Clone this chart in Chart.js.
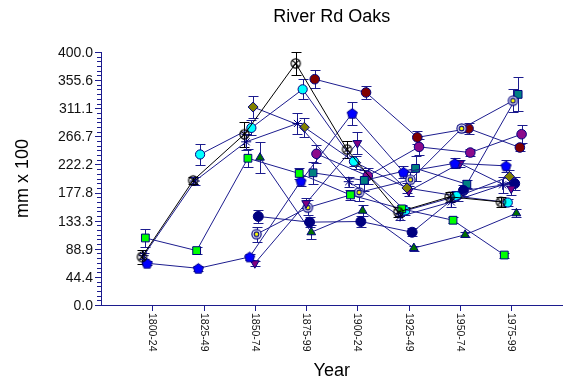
<!DOCTYPE html>
<html>
<head>
<meta charset="utf-8">
<title>River Rd Oaks</title>
<script src="https://cdn.jsdelivr.net/npm/chart.js@4.4.1/dist/chart.umd.min.js"></script>
<style>
  html, body { margin: 0; padding: 0; background: #fff; }
  #wrap { width: 569px; height: 384px; }
</style>
</head>
<body>
<div id="wrap"><canvas id="chart" width="569" height="384"></canvas></div>
<script>
// Periods on the x axis
const periods = ['1800-24', '1825-49', '1850-74', '1875-99', '1900-24', '1925-49', '1950-74', '1975-99'];
// Y axis tick labels
const yTickLabels = ['0.0', '44.4', '88.9', '133.3', '177.8', '222.2', '266.7', '311.1', '355.6', '400.0'];

// Mean ring width (mm x 100) per period, one array per tree, with error bar half-lengths
const crossCircle      = [76, 197, 270, 382, 246, 147, 171, 163];
const crossCircleErr   = [11, 6, 20, 18, 14, 8, 8, 8];
const navyStar         = [78, 196, 258, 287, 195, 140, 163, 190];
const navyStarErr      = [5, 6, 13, 16, 8, 6, 8, 13];
const greenSquare      = [106, 86, 232, 208, 174, 152, 134, 79];
const greenSquareErr   = [14, 6, 14, 8, 8, 6, 5, 4];
const bluePentagon     = [66, 58, 76, 196, 303, 210, 224, 220];
const bluePentagonErr  = [3, 4, 5, 8, 18, 9, 8, 10];
const cyanCircle       = [null, 238, 280, 341, 227, 149, 172, 162];
const cyanCircleErr    = [null, 16, 12, 16, 8, 6, 8, 6];
const oliveDiamond     = [null, null, 313, 281, 225, 185, 172, 203];
const oliveDiamondErr  = [null, null, 18, 15, 10, 8, 8, 10];
const purpleTriangle   = [null, null, 66, 161, 256, 180, 224, 184];
const purpleTriangleErr = [null, null, 4, 8, 18, 8, 6, 10];
const ringedDot        = [null, null, 112, 154, 178, 198, 279, 323];
const ringedDotErr     = [null, null, 12, 12, 14, 13, 6, 18];
const navyCircle       = [null, null, 140, 131, 132, 115, 181, 192];
const navyCircleErr    = [null, null, 10, 8, 8, 6, 8, 10];
const greenTriangle    = [null, null, 233, 115, 149, 90, 111, 145];
const greenTriangleErr = [null, null, 25, 11, 9, 4, 4, 6];
const tealSquare       = [null, null, null, 209, 197, 216, 191, 333];
const tealSquareErr    = [null, null, null, 17, 16, 20, 6, 27];
const redCircle        = [null, null, null, 357, 336, 265, 279, 249];
const redCircleErr     = [null, null, null, 14, 10, 10, 8, 6];
const purpleCircle     = [null, null, null, 239, 204, 250, 241, 270];
const purpleCircleErr  = [null, null, null, 14, 12, 13, 6, 14];

const NAVY = '#1c1c8e';
const FONT = '"Liberation Sans", Arial, sans-serif';

// small canvases for marker shapes Chart.js doesn't have
function markerCanvas(draw) {
    const c = document.createElement('canvas');
    c.width = 13;
    c.height = 13;
    draw(c.getContext('2d'), 6.5);
    return c;
}

const crossCircleMark = markerCanvas((ctx, m) => {
    ctx.strokeStyle = '#000';
    ctx.lineWidth = 1.2;
    ctx.beginPath();
    ctx.arc(m, m, 4.6, 0, Math.PI * 2);
    ctx.moveTo(m - 3.2, m - 3.2); ctx.lineTo(m + 3.2, m + 3.2);
    ctx.moveTo(m + 3.2, m - 3.2); ctx.lineTo(m - 3.2, m + 3.2);
    ctx.stroke();
});

const pentagonMark = markerCanvas((ctx, m) => {
    ctx.beginPath();
    for (let k = 0; k < 5; k++) {
        const a = -Math.PI / 2 + k * 2 * Math.PI / 5;
        ctx.lineTo(m + 5.3 * Math.cos(a), m + 5.3 * Math.sin(a) + 0.5);
    }
    ctx.closePath();
    ctx.fillStyle = '#0000ff';
    ctx.fill();
    ctx.strokeStyle = '#000080';
    ctx.lineWidth = 1;
    ctx.stroke();
});

const ringedDotMark = markerCanvas((ctx, m) => {
    const disc = (r, col) => { ctx.beginPath(); ctx.arc(m, m, r, 0, Math.PI * 2); ctx.fillStyle = col; ctx.fill(); };
    disc(5.2, '#000080');
    disc(4.0, '#ffffff');
    disc(2.9, '#000080');
    disc(1.7, '#ffff00');
});

const series = [
    { label: 'crossCircle', values: crossCircle, errors: crossCircleErr, line: '#000', err: '#000', style: crossCircleMark, radius: 5 },
    { label: 'navyStar', values: navyStar, errors: navyStarErr, style: 'star', radius: 5, fill: NAVY },
    { label: 'greenSquare', values: greenSquare, errors: greenSquareErr, style: 'rect', radius: 5.5, fill: '#00ff00' },
    { label: 'bluePentagon', values: bluePentagon, errors: bluePentagonErr, style: pentagonMark, radius: 5 },
    { label: 'cyanCircle', values: cyanCircle, errors: cyanCircleErr, style: 'circle', radius: 4.6, fill: '#00ffff' },
    { label: 'oliveDiamond', values: oliveDiamond, errors: oliveDiamondErr, style: 'rectRot', radius: 5, fill: '#808000' },
    { label: 'purpleTriangle', values: purpleTriangle, errors: purpleTriangleErr, style: 'triangle', radius: 5, fill: '#800080', rotation: 180 },
    { label: 'ringedDot', values: ringedDot, errors: ringedDotErr, style: ringedDotMark, radius: 5 },
    { label: 'navyCircle', values: navyCircle, errors: navyCircleErr, style: 'circle', radius: 5, fill: '#000080' },
    { label: 'greenTriangle', values: greenTriangle, errors: greenTriangleErr, style: 'triangle', radius: 5, fill: '#007000' },
    { label: 'tealSquare', values: tealSquare, errors: tealSquareErr, style: 'rect', radius: 5.5, fill: '#008080' },
    { label: 'redCircle', values: redCircle, errors: redCircleErr, style: 'circle', radius: 4.8, fill: '#800000' },
    { label: 'purpleCircle', values: purpleCircle, errors: purpleCircleErr, style: 'circle', radius: 4.8, fill: '#8b0a8b' }
];

// each tree is nudged sideways a little so the error bars don't sit on each other
const SHIFT = 0.0337;

const datasets = series.map((s, si) => {
    const pts = [];
    s.values.forEach((v, i) => {
        if (v === null) return;
        pts.push({ x: i + 1 + (si - 6) * SHIFT, y: v, err: s.errors[i] });
    });
    return {
        label: s.label,
        data: pts,
        borderColor: s.line || NAVY,
        borderWidth: 1,
        errColor: s.err || NAVY,
        pointStyle: s.style,
        pointRadius: s.radius,
        pointRotation: s.rotation || 0,
        pointBackgroundColor: s.fill || '#fff',
        pointBorderColor: '#000080',
        pointBorderWidth: 1,
        tension: 0
    };
});

// Error bars drawn under the markers
const errorBars = {
    id: 'errorBars',
    beforeDatasetsDraw(chart) {
        const { ctx, scales: { x, y } } = chart;
        chart.data.datasets.forEach(ds => {
            ctx.save();
            ctx.strokeStyle = ds.errColor;
            ctx.lineWidth = 1;
            ctx.beginPath();
            ds.data.forEach(p => {
                const px = Math.round(x.getPixelForValue(p.x)) + 0.5;
                const top = Math.round(y.getPixelForValue(p.y + p.err)) + 0.5;
                const bot = Math.round(y.getPixelForValue(p.y - p.err)) + 0.5;
                ctx.moveTo(px, top); ctx.lineTo(px, bot);
                ctx.moveTo(px - 5, top); ctx.lineTo(px + 5, top);
                ctx.moveTo(px - 5, bot); ctx.lineTo(px + 5, bot);
            });
            ctx.stroke();
            ctx.restore();
        });
    }
};

// Ticks, tick labels and titles
const decorations = {
    id: 'decorations',
    afterDraw(chart) {
        const { ctx, chartArea, scales: { x, y } } = chart;
        ctx.save();
        ctx.strokeStyle = NAVY;
        ctx.lineWidth = 1;
        ctx.beginPath();
        // y ticks: major with 5 minor between
        for (let k = 0; k <= 54; k++) {
            const py = Math.round(y.getPixelForValue(k * 400 / 54)) + 0.5;
            const len = k % 6 === 0 ? 6 : 4;
            ctx.moveTo(chartArea.left - len, py);
            ctx.lineTo(chartArea.left, py);
        }
        periods.forEach((p, i) => {
            const px = Math.round(x.getPixelForValue(i + 1)) + 0.5;
            ctx.moveTo(px, chartArea.bottom);
            ctx.lineTo(px, chartArea.bottom + 6);
        });
        ctx.stroke();

        ctx.fillStyle = '#111';
        ctx.font = '14px ' + FONT;
        ctx.textAlign = 'right';
        ctx.textBaseline = 'middle';
        yTickLabels.forEach(lbl => {
            ctx.fillText(lbl, chartArea.left - 8, y.getPixelForValue(parseFloat(lbl)) + 1);
        });

        ctx.font = '10.5px ' + FONT;
        ctx.textAlign = 'left';
        periods.forEach((p, i) => {
            ctx.save();
            ctx.translate(x.getPixelForValue(i + 1), chartArea.bottom + 8);
            ctx.rotate(Math.PI / 2);
            ctx.fillText(p, 0, 0);
            ctx.restore();
        });

        const midX = (chartArea.left + chartArea.right) / 2;
        ctx.fillStyle = '#000';
        ctx.font = '18px ' + FONT;
        ctx.textAlign = 'center';
        ctx.textBaseline = 'alphabetic';
        ctx.fillText('River Rd Oaks', midX, 22);
        ctx.fillText('Year', midX, 376);

        ctx.translate(28, (chartArea.top + chartArea.bottom) / 2);
        ctx.rotate(-Math.PI / 2);
        ctx.fillText('mm x 100', 0, 0);
        ctx.restore();
    }
};

new Chart(document.getElementById('chart'), {
    type: 'line',
    data: { datasets: datasets },
    options: {
        responsive: false,
        animation: false,
        devicePixelRatio: 1,
        layout: { padding: { left: 101, right: 0, top: 52, bottom: 79 } },
        plugins: {
            legend: { display: false },
            tooltip: { enabled: false },
            title: { display: false }
        },
        scales: {
            x: {
                type: 'linear',
                min: 0,
                max: 9,
                grid: { display: false, drawTicks: false },
                ticks: { display: false },
                border: { color: NAVY, width: 1 }
            },
            y: {
                min: 0,
                max: 400,
                grid: { display: false, drawTicks: false },
                ticks: { display: false },
                border: { color: NAVY, width: 1 }
            }
        }
    },
    plugins: [errorBars, decorations]
});
</script>
</body>
</html>
